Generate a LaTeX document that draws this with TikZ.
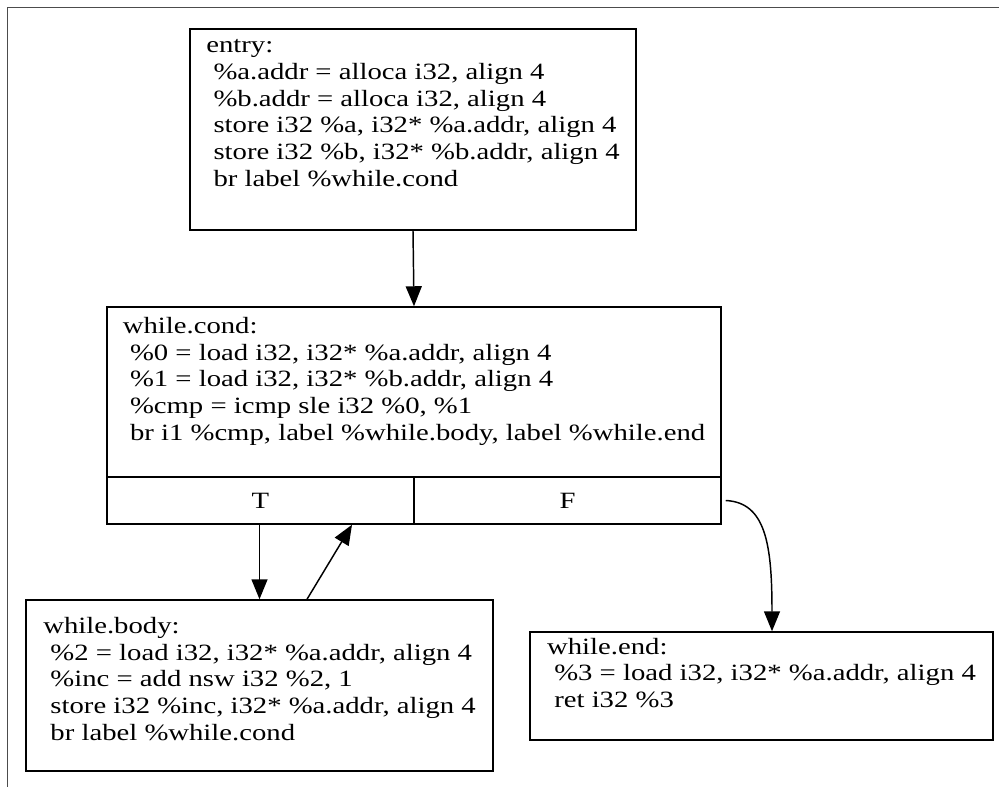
\documentclass[tikz,border=0pt]{standalone}
\usepackage{fontspec}
\setmainfont[FakeStretch=1.23]{Liberation Serif}
\usetikzlibrary{arrows.meta,calc}
\begin{document}
\begin{tikzpicture}[x=0.75pt,y=-0.75pt,
  codefont/.style={font=\fontsize{17.5pt}{20pt}\selectfont},
  block/.style={draw, line width=1.1pt, align=left, inner sep=0pt, codefont},
  cell/.style={draw, line width=1.1pt, inner sep=0pt, minimum width=230.25pt, minimum height=35.25pt, codefont},
  flow/.style={line width=1.1pt, -{Triangle[length=15pt,width=12pt]}},
  frameline/.style={draw=black!70, line width=0.8pt}]
\useasboundingbox (0,0) rectangle (999,787);
% page frame (top and left edges)
\draw[frameline] (7.5,787) -- (7.5,7.5) -- (999,7.5);

% basic blocks; each label ends with an empty line, as the records do
\node[block, minimum width=334.5pt, minimum height=150.75pt] (entry) at (413,129.5)
  {entry:\\
   \ \%a.addr = alloca i32, align 4\\
   \ \%b.addr = alloca i32, align 4\\
   \ store i32 \%a, i32* \%a.addr, align 4\\
   \ store i32 \%b, i32* \%b.addr, align 4\\
   \ br label \%while.cond\\[5pt]
   \mbox{}};

\node[block, minimum width=460.5pt, minimum height=127.5pt] (cond) at (414,392)
  {while.cond:\\
   \ \%0 = load i32, i32* \%a.addr, align 4\\
   \ \%1 = load i32, i32* \%b.addr, align 4\\
   \ \%cmp = icmp sle i32 \%0, \%1\\
   \ br i1 \%cmp, label \%while.body, label \%while.end\\
   \mbox{}};
\node[cell] (T) at (260.5,500.5) {T};
\node[cell] (F) at (567.5,500.5) {F};

\node[block, minimum width=350.25pt, minimum height=128.25pt] (body) at (259.5,685.5)
  {while.body:\\
   \ \%2 = load i32, i32* \%a.addr, align 4\\
   \ \%inc = add nsw i32 \%2, 1\\
   \ store i32 \%inc, i32* \%a.addr, align 4\\
   \ br label \%while.cond\\[-10pt]
   \mbox{}};

\node[block, minimum width=347.25pt, minimum height=81pt] (wend) at (761.5,686)
  {while.end:\\
   \ \%3 = load i32, i32* \%a.addr, align 4\\
   \ ret i32 \%3\\
   \mbox{}};

% control-flow edges
\draw[flow] (entry.south) -- (cond.north);
\draw[flow] ($(T.south)+(-1,0)$) -- (body.north);
\draw[flow] ($(body.north)+(47.5,0)$) -- ($(T.south)+(91.5,0)$);
\draw[flow] ($(F.east)+(4,0)$) .. controls ($(F.east)+(44,2)$) and ($(wend.north)+(10.5,-87)$) .. ($(wend.north)+(10.5,0)$);
\end{tikzpicture}
\end{document}
